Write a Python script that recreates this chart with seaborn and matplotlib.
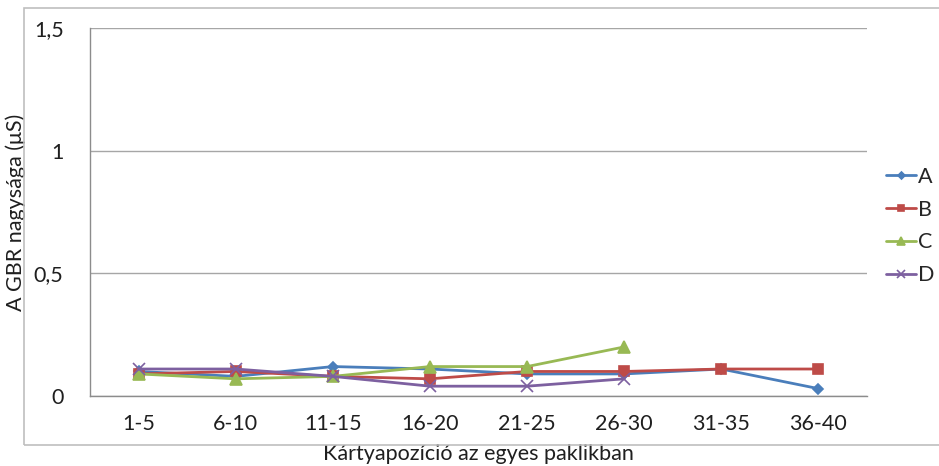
import matplotlib
matplotlib.use("Agg")
import matplotlib.pyplot as plt
import seaborn as sns
import pandas as pd
import numpy as np
from matplotlib.patches import Rectangle

categories = ["1-5", "6-10", "11-15", "16-20", "21-25", "26-30", "31-35", "36-40"]
series_a = [0.10, 0.08, 0.12, 0.11, 0.09, 0.09, 0.11, 0.03]
series_b = [0.09, 0.10, 0.08, 0.07, 0.10, 0.10, 0.11, 0.11]
series_c = [0.09, 0.07, 0.08, 0.12, 0.12, 0.20, np.nan, np.nan]
series_d = [0.11, 0.11, 0.08, 0.04, 0.04, 0.07, np.nan, np.nan]
y_ticks = [0, 0.5, 1, 1.5]
y_tick_labels = ["0", "0,5", "1", "1,5"]

names = ["A", "B", "C", "D"]
values = [series_a, series_b, series_c, series_d]
palette = {"A": "#4A7EBB", "B": "#BE4B48", "C": "#98B954", "D": "#7D60A0"}
markers = {"A": "D", "B": "s", "C": "^", "D": "x"}
marker_sizes = {"A": 5.5, "B": 7.5, "C": 8, "D": 8}

FS = 15.5
TXT = "#1F1F1F"

sns.set_theme(style="white")
plt.rcParams["font.family"] = ["Lato", "DejaVu Sans"]

fig = plt.figure(figsize=(9.39, 4.66), dpi=100)
ax = fig.add_axes([90 / 939, 1 - 396 / 466, (867 - 90) / 939, (396 - 28) / 466])

# outer chart frame
fig.patches.append(Rectangle((24 / 939, 1 - 445 / 466), 1.0, (445 - 8) / 466,
                             transform=fig.transFigure, fill=False,
                             edgecolor="#BFBFBF", linewidth=1.2, zorder=0))

for name, vals in zip(names, values):
    df = pd.DataFrame({"pos": np.arange(len(vals)), "value": vals}).dropna()
    sns.lineplot(data=df, x="pos", y="value", color=palette[name],
                 marker=markers[name], markersize=marker_sizes[name],
                 markeredgecolor=palette[name], markeredgewidth=1.2,
                 linewidth=2, label=name, ax=ax)

ax.set_xlim(-0.5, len(categories) - 0.5)
ax.set_ylim(0, 1.5)
ax.set_yticks(y_ticks)
ax.set_yticklabels(y_tick_labels)
ax.set_xticks(range(len(categories)))
ax.set_xticklabels(categories)
ax.set_xticks(np.arange(-0.5, len(categories), 1.0), minor=True)
ax.tick_params(axis="x", which="major", length=0, pad=13, labelsize=FS, colors=TXT)
ax.tick_params(axis="x", which="minor", length=6, width=1, color="#8C8C8C", direction="out")
ax.tick_params(axis="y", length=6, width=1, color="#8C8C8C", direction="out",
               pad=13, labelsize=FS, labelcolor=TXT)
ax.yaxis.grid(True, color="#A6A6A6", linewidth=1)
ax.set_axisbelow(True)
for side in ["top", "right"]:
    ax.spines[side].set_visible(False)
for side in ["left", "bottom"]:
    ax.spines[side].set_color("#8C8C8C")
    ax.spines[side].set_linewidth(1)

ax.set_xlabel("Kártyapozíció az egyes paklikban", fontsize=FS, color=TXT, labelpad=7.5)
ax.set_ylabel("A GBR nagysága (μS)", fontsize=FS, color=TXT, labelpad=6)

handles, labels = ax.get_legend_handles_labels()
ax.legend(handles, labels, loc="center left", bbox_to_anchor=(886 / 939, 1 - 226 / 466),
          bbox_transform=fig.transFigure, frameon=False, fontsize=FS,
          handlelength=1.4, handletextpad=0.1, labelspacing=0.6, markerscale=0.65,
          borderpad=0, borderaxespad=0)

fig.savefig("out.png", dpi=100)
